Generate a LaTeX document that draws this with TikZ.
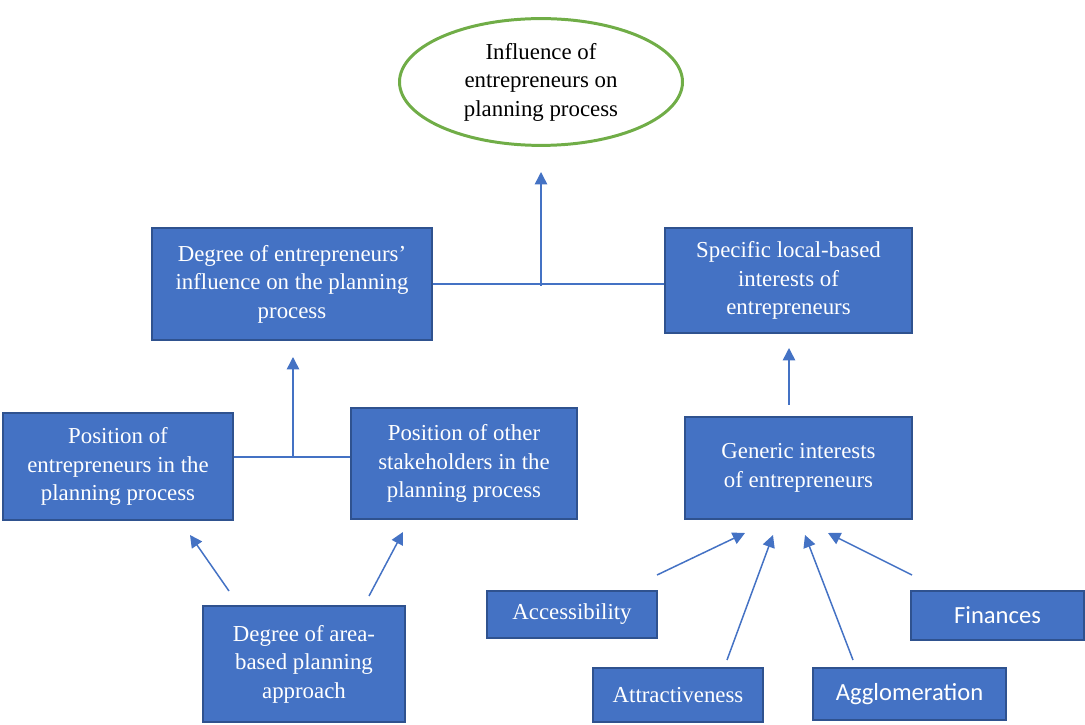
\documentclass[tikz,border=0pt]{standalone}
\usepackage{fontspec}
\setmainfont{Liberation Serif}
\newfontfamily\calib{Carlito}
\usepackage{tikz}
\usetikzlibrary{arrows.meta,shapes.geometric}
\definecolor{boxblue}{HTML}{4472C4}
\definecolor{boxedge}{HTML}{2F528F}
\definecolor{ringgreen}{HTML}{70AD47}

\begin{document}
\begin{tikzpicture}[every node/.style={font=\fontsize{13}{16.2}\selectfont},
  box/.style={draw=boxedge,line width=1pt,fill=boxblue,text=white,align=center,inner sep=2pt},
  link/.style={draw=boxblue,line width=0.85pt},
  arr/.style={link,-{Triangle[length=7pt,width=7pt]}}]
\useasboundingbox (0,0) rectangle (21.7,-14.5);
\node[ellipse,draw=ringgreen,line width=1.7pt,minimum width=5.66cm,minimum height=2.5cm,align=center] (goal) at (10.82,-1.64) {Influence of\\entrepreneurs on\\planning process};
\node[box,minimum width=5.6cm,minimum height=2.24cm] (infl) at (5.84,-5.68) {Degree of entrepreneurs'\\influence on the planning\\process};
\node[box,minimum width=4.94cm,minimum height=2.1cm] (spec) at (15.77,-5.61) {Specific local-based\\interests of\\entrepreneurs};
\node[box,minimum width=4.6cm,minimum height=2.14cm] (posE) at (2.36,-9.33) {Position of\\entrepreneurs in the\\planning process};
\node[box,minimum width=4.52cm,minimum height=2.22cm] (posO) at (9.28,-9.27) {Position of other\\stakeholders in the\\planning process};
\node[box,minimum width=4.04cm,minimum height=2.32cm] (area) at (6.08,-13.28) {Degree of area-\\based planning\\approach};
\node[box,minimum width=4.54cm,minimum height=2.04cm] (gen) at (15.97,-9.36) {Generic interests\\of entrepreneurs};
\node[box,minimum width=3.4cm,minimum height=0.94cm] (acc) at (11.44,-12.29) {Accessibility};
\node[box,minimum width=3.4cm,minimum height=1.08cm] (attr) at (13.56,-13.9) {Attractiveness};
\node[box,minimum width=3.86cm,minimum height=1.04cm,font=\calib\fontsize{14}{16}\selectfont] (aggl) at (18.19,-13.88) {Agglomeration};
\node[box,minimum width=3.46cm,minimum height=0.98cm,font=\calib\fontsize{14}{16}\selectfont] (fin) at (19.95,-12.31) {Finances};
% joints and arrow ends
\coordinate (topj) at (10.82,-5.72);
\coordinate (topt) at (10.82,-3.44);
\coordinate (posj) at (5.86,-9.14);
\coordinate (post) at (5.86,-7.14);
\coordinate (genf) at (15.78,-8.1);
\coordinate (gent) at (15.78,-6.96);
\coordinate (aE) at (4.58,-11.82);
\coordinate (aEt) at (3.8,-10.7);
\coordinate (aO) at (7.38,-11.92);
\coordinate (aOt) at (8.06,-10.64);
\coordinate (acF) at (13.14,-11.5);
\coordinate (acT) at (14.9,-10.66);
\coordinate (atF) at (14.54,-13.2);
\coordinate (atT) at (15.46,-10.7);
\coordinate (agF) at (17.06,-13.2);
\coordinate (agT) at (16.1,-10.7);
\coordinate (fiF) at (18.24,-11.5);
\coordinate (fiT) at (16.56,-10.66);
\draw[link] (infl.east) -- (infl.east -| spec.west);
\draw[arr] (topj) -- (topt);
\draw[link] (posE.east |- posj) -- (posO.west |- posj);
\draw[arr] (posj) -- (post);
\draw[arr] (genf) -- (gent);
\draw[arr] (aE) -- (aEt);
\draw[arr] (aO) -- (aOt);
\draw[arr] (acF) -- (acT);
\draw[arr] (atF) -- (atT);
\draw[arr] (agF) -- (agT);
\draw[arr] (fiF) -- (fiT);
\end{tikzpicture}
\end{document}
